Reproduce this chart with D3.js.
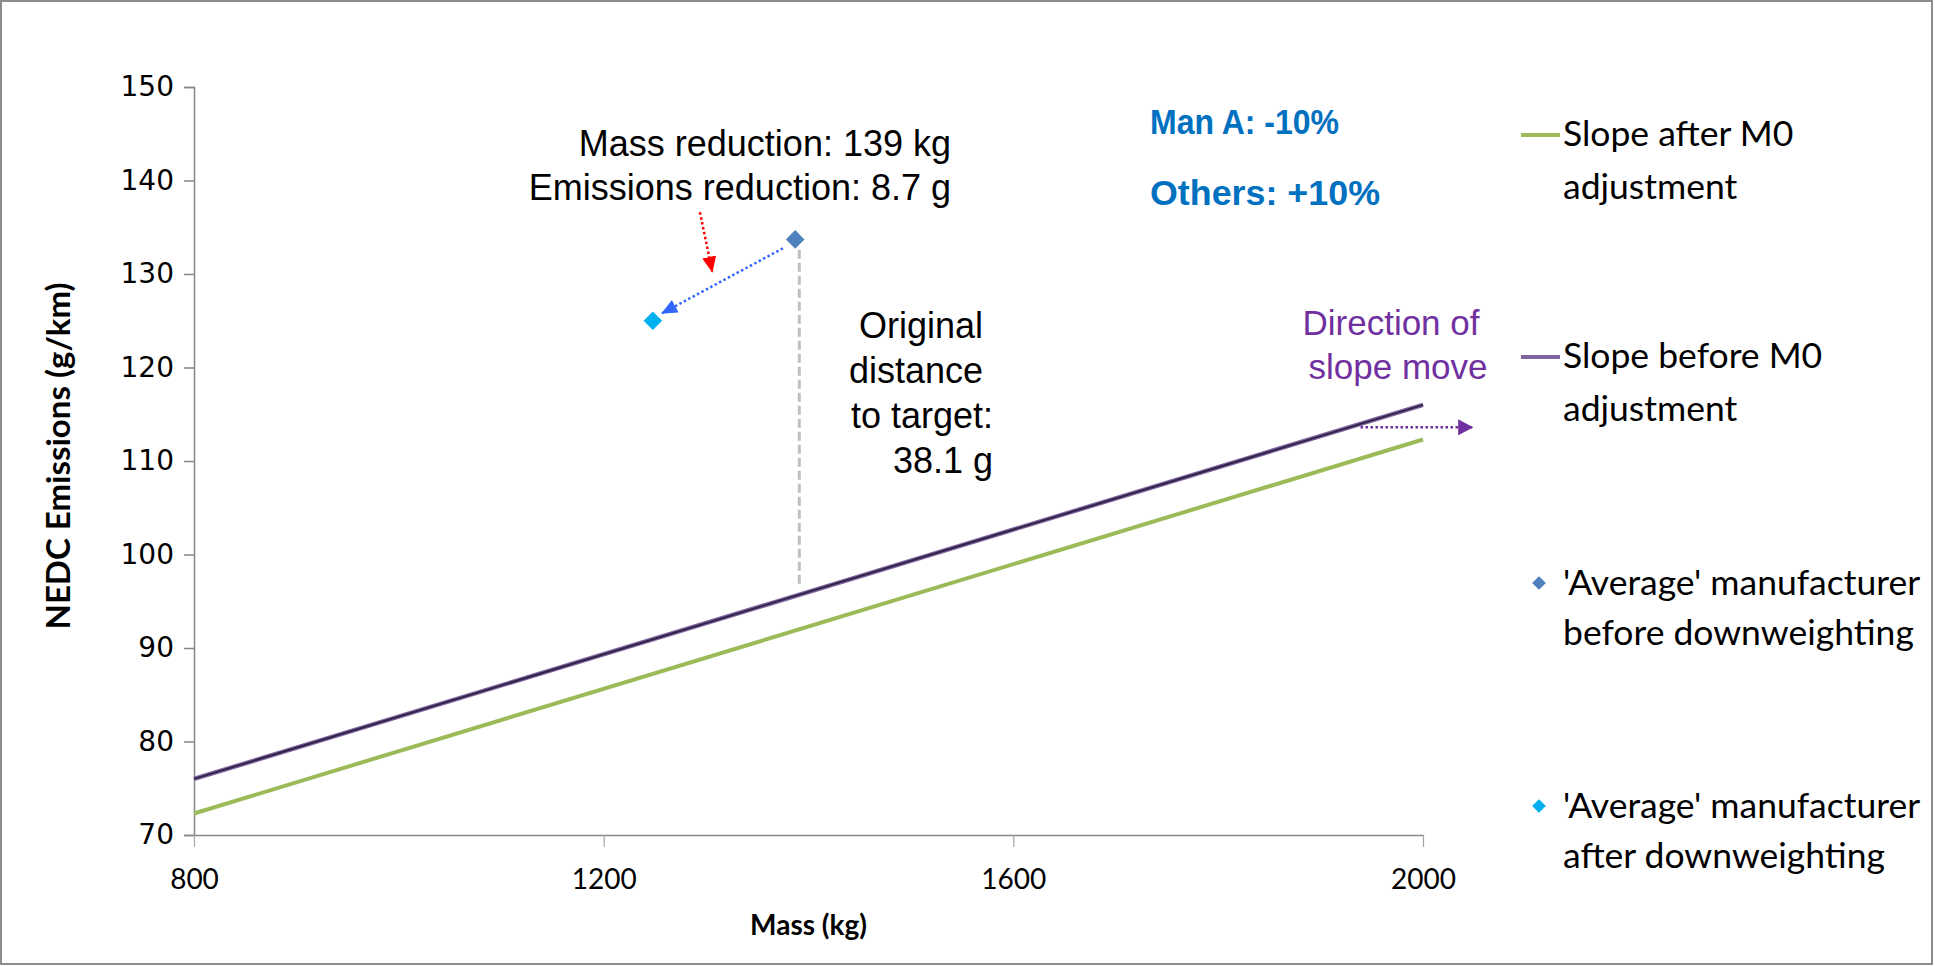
<!DOCTYPE html>
<html>
<head>
<meta charset="utf-8">
<script src="https://cdn.jsdelivr.net/npm/d3@7"></script>
<style>
  html, body { margin: 0; padding: 0; background: #fff; }
  svg { display: block; }
</style>
</head>
<body>
<svg id="chart" width="1935" height="966"></svg>
<script>

// axis ranges and ticks
var massDomain = [800, 2000];
var emissionDomain = [70, 150];
var massTicks = [800, 1200, 1600, 2000];
var emissionTicks = [70, 80, 90, 100, 110, 120, 130, 140, 150];

// target lines (mass kg -> g/km)
var slopeMass = [800, 2000];
var slopeBefore = [76.0, 116.0];
var slopeAfter = [72.3, 112.3];

// 'average' manufacturer [mass, emissions]
var manBefore = [1387, 133.7];
var manAfter = [1248, 125.0];

// annotation arrows, in data units
var moveArrow = [[1375, 132.75], [1257, 125.8]];
var pointerArrow = [[1294, 136.6], [1306, 130.25]];
var slopeArrow = [[1939, 113.6], [2048, 113.6]];
var distanceLine = [[1391, 132.6], [1391, 96.6]];

const width = 1935;
const height = 966;
const plotL = 194, plotR = 1423, plotT = 87, plotB = 835;

const svg = d3.select("#chart");

svg.append("rect")
    .attr("x", 1).attr("y", 1)
    .attr("width", width - 4).attr("height", height - 3)
    .attr("fill", "none")
    .attr("stroke", "#8c8c8c")
    .attr("stroke-width", 2);

const x = d3.scaleLinear().domain(massDomain).range([plotL, plotR]);
const y = d3.scaleLinear().domain(emissionDomain).range([plotB, plotT]);

// markers for arrowheads
const defs = svg.append("defs");
function arrowHead(id, color, len, wid) {
  defs.append("marker")
      .attr("id", id)
      .attr("markerUnits", "userSpaceOnUse")
      .attr("viewBox", `0 0 ${len} ${wid}`)
      .attr("refX", len - 1)
      .attr("refY", wid / 2)
      .attr("markerWidth", len)
      .attr("markerHeight", wid)
      .attr("orient", "auto")
    .append("path")
      .attr("d", `M0,0L${len},${wid / 2}L0,${wid}Z`)
      .attr("fill", color);
}
arrowHead("blueHead", "#3366ff", 16, 14);
arrowHead("redHead", "#ff0000", 16, 14);
arrowHead("purpleHead", "#7030a0", 15, 16);

// y axis
const yAxis = svg.append("g")
    .attr("transform", `translate(${plotL},0)`)
    .call(d3.axisLeft(y).tickValues(emissionTicks).tickSize(10).tickPadding(10));
yAxis.select(".domain").attr("stroke", "#868686").attr("stroke-width", 1.5);
yAxis.selectAll(".tick line").attr("stroke", "#868686").attr("stroke-width", 1.5);
yAxis.selectAll(".tick text")
    .attr("font-family", "DejaVu Sans")
    .attr("font-size", 28)
    .attr("fill", "#000");

// x axis
const xAxis = svg.append("g")
    .attr("transform", `translate(0,${plotB})`)
    .call(d3.axisBottom(x).tickValues(massTicks).tickFormat(d3.format("d")).tickSize(12).tickSizeOuter(0).tickPadding(22));
xAxis.select(".domain").attr("stroke", "#868686").attr("stroke-width", 1.5);
xAxis.selectAll(".tick line").attr("stroke", "#a6a6a6").attr("stroke-width", 1.2);
xAxis.selectAll(".tick text")
    .attr("font-family", "Lato")
    .attr("font-size", 28)
    .attr("fill", "#000");

// axis titles
svg.append("text")
    .attr("x", (plotL + plotR) / 2)
    .attr("y", 935)
    .attr("text-anchor", "middle")
    .attr("font-family", "Lato")
    .attr("font-weight", "bold")
    .attr("font-size", 28)
    .text("Mass (kg)");

svg.append("text")
    .attr("transform", "translate(70,456) rotate(-90)")
    .attr("text-anchor", "middle")
    .attr("font-family", "Lato")
    .attr("font-weight", "bold")
    .attr("font-size", 33)
    .text("NEDC Emissions (g/km)");

// slope lines
const line = d3.line().x(d => x(d[0])).y(d => y(d[1]));
const afterPts = slopeMass.map((m, i) => [m, slopeAfter[i]]);
const beforePts = slopeMass.map((m, i) => [m, slopeBefore[i]]);

svg.append("path").attr("d", line(afterPts))
    .attr("fill", "none").attr("stroke", "#9bbb59").attr("stroke-width", 4);
svg.append("path").attr("d", line(beforePts))
    .attr("fill", "none").attr("stroke", "#8064a2").attr("stroke-width", 4.5);
svg.append("path").attr("d", line(beforePts))
    .attr("fill", "none").attr("stroke", "#2f2445").attr("stroke-width", 2);

// distance to target
svg.append("path").attr("d", line(distanceLine))
    .attr("stroke", "#bfbfbf").attr("stroke-width", 3)
    .attr("stroke-dasharray", "9,4").attr("fill", "none");

// arrows
svg.append("path").attr("d", line(moveArrow))
    .attr("stroke", "#3366ff").attr("stroke-width", 2.5)
    .attr("stroke-dasharray", "2.5,2.5").attr("fill", "none")
    .attr("marker-end", "url(#blueHead)");
svg.append("path").attr("d", line(pointerArrow))
    .attr("stroke", "#ff0000").attr("stroke-width", 2.5)
    .attr("stroke-dasharray", "2.5,2.5").attr("fill", "none")
    .attr("marker-end", "url(#redHead)");
svg.append("path").attr("d", line(slopeArrow))
    .attr("stroke", "#7030a0").attr("stroke-width", 2.5)
    .attr("stroke-dasharray", "2.5,2.5").attr("fill", "none")
    .attr("marker-end", "url(#purpleHead)");

// manufacturer points
const diamond = d3.symbol().type(d3.symbolDiamond2);
svg.append("path")
    .attr("d", diamond.size(220)())
    .attr("transform", `translate(${x(manBefore[0])},${y(manBefore[1])})`)
    .attr("fill", "#4f81bd");
svg.append("path")
    .attr("d", diamond.size(220)())
    .attr("transform", `translate(${x(manAfter[0])},${y(manAfter[1])})`)
    .attr("fill", "#00b0f0");

// annotations
function textLines(lines, opts) {
  lines.forEach(l => {
    const t = svg.append("text")
        .attr("x", l[0]).attr("y", l[1])
        .attr("text-anchor", opts.anchor)
        .attr("font-family", opts.family)
        .attr("font-size", opts.size)
        .attr("font-weight", opts.weight || "normal")
        .attr("fill", opts.color)
        .text(l[2]);
    if (l[3]) t.attr("textLength", l[3]).attr("lengthAdjust", "spacingAndGlyphs");
  });
}

textLines([
  [951, 156, "Mass reduction: 139 kg"],
  [951, 200, "Emissions reduction: 8.7 g"]
], {anchor: "end", family: "Liberation Sans", size: 36, color: "#000"});

textLines([
  [983, 338, "Original"],
  [983, 383, "distance"],
  [993, 428, "to target:"],
  [993, 473, "38.1 g"]
], {anchor: "end", family: "Liberation Sans", size: 36, color: "#000"});

textLines([
  [1150, 134, "Man A: -10%", 189],
  [1150, 205, "Others: +10%", 230]
], {anchor: "start", family: "Liberation Sans", size: 35, weight: "bold", color: "#0070c0"});

textLines([
  [1391, 335, "Direction of"],
  [1398, 379, "slope move"]
], {anchor: "middle", family: "Liberation Sans", size: 35, color: "#7030a0"});

// legend
const legendX = 1563;
const legend = [
  {type: "line", color: "#9bbb59", mark: 135, lines: [[146, "Slope after M0"], [199, "adjustment"]]},
  {type: "line", color: "#8064a2", mark: 357, lines: [[368, "Slope before M0"], [421, "adjustment"]]},
  {type: "diamond", color: "#4f81bd", mark: 583, lines: [[595, "'Average' manufacturer"], [645, "before downweighting"]]},
  {type: "diamond", color: "#00b0f0", mark: 806, lines: [[818, "'Average' manufacturer"], [868, "after downweighting"]]}
];

legend.forEach(item => {
  if (item.type === "line") {
    svg.append("line")
        .attr("x1", 1521).attr("x2", 1560)
        .attr("y1", item.mark).attr("y2", item.mark)
        .attr("stroke", item.color).attr("stroke-width", 4);
  } else {
    svg.append("path")
        .attr("d", diamond.size(120)())
        .attr("transform", `translate(1539,${item.mark})`)
        .attr("fill", item.color);
  }
  item.lines.forEach(l => {
    svg.append("text")
        .attr("x", legendX)
        .attr("y", l[0])
        .attr("font-family", "Lato")
        .attr("font-size", 35.5)
        .attr("fill", "#000")
        .text(l[1]);
  });
});

</script>
</body>
</html>
